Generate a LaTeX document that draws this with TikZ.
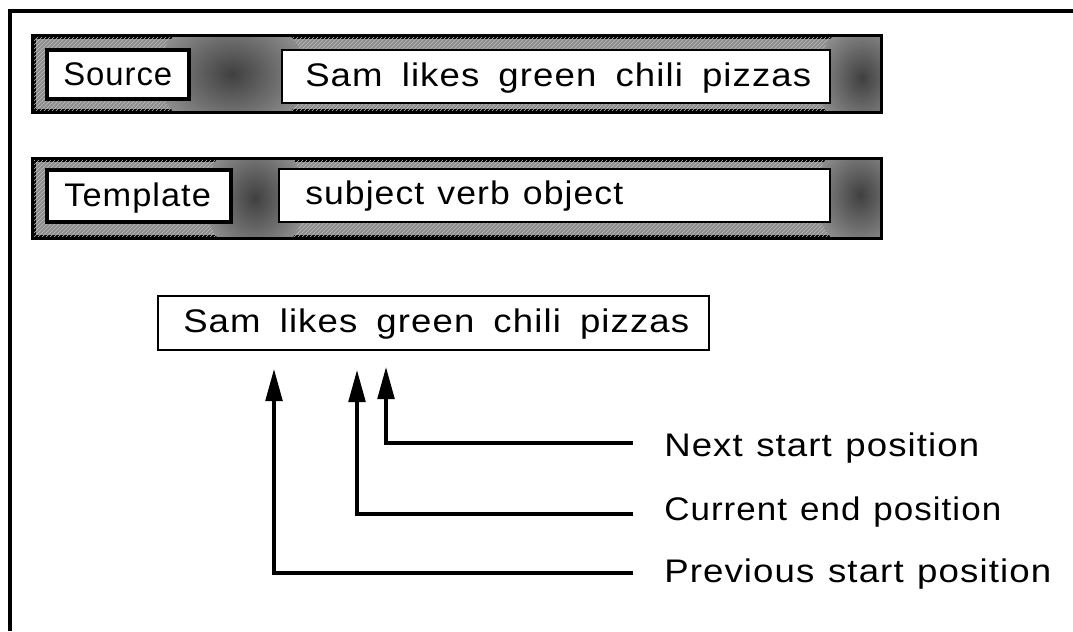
\documentclass[tikz,border=0pt]{standalone}
\usepackage{fontspec}
\setmainfont{Liberation Sans}[LetterSpace=3.0,WordSpace=1.7]
\newfontfamily\plainfont{Liberation Sans}[LetterSpace=3.0,WordSpace=1.2]
\usepackage{graphicx}
\usetikzlibrary{arrows.meta,patterns}
\newcommand\fitto[2]{\setbox0=\hbox{#2}\pgfmathsetmacro\fitr{#1/\the\wd0}\scalebox{\fitr}[1]{\box0}}
\begin{document}
\begin{tikzpicture}[x=0.75pt,y=-0.75pt,
  bar/.style={draw=black, line width=2.6pt, fill=black!45, minimum width=634.5pt, inner sep=0},
  box/.style={draw=black, fill=white, inner sep=0},
  txt/.style={inner sep=0, anchor=base west, font=\fontsize{24.5}{28}\selectfont},
  lead/.style={line width=2.5pt, -{Triangle[length=24pt,width=12.5pt]}},
  blot/.style={inner color=black!75, outer color=black!45},
  hatch/.style={pattern=north east lines, pattern color=black!25}
  ]
\useasboundingbox (0,0) rectangle (1073,631);
% frame
\draw[line width=2.6pt] (10,631) -- (10,11) -- (1073,11);

% Source bar
\node[bar, minimum height=55.5pt] (srcbar) at (457,74) {};
\begin{scope}
  \clip (srcbar.south west) rectangle (srcbar.north east);
  \fill[hatch] (srcbar.south west) rectangle (srcbar.north east);
  \shade[blot] (232,74) ellipse (75 and 60);
  \shade[blot] (862,78) ellipse (45 and 55);
\end{scope}
\draw[line width=2.6pt] (srcbar.south west) rectangle (srcbar.north east);
\node[box, line width=2.4pt, minimum width=106.5pt, minimum height=36.75pt] (srclbl) at (118,74.5) {};
\node[box, line width=2.2pt, minimum width=411pt, minimum height=39.75pt] (srctxt) at (556,76.5) {};
\node[txt] (srclblt) at (63,86) {\fitto{81.75pt}{Source}};
\node[txt] (srctxtt) at (305,87) {\fitto{379.5pt}{Sam likes green chili pizzas}};

% Template bar
\node[bar, minimum height=57.75pt] (tplbar) at (457,198.5) {};
\begin{scope}
  \clip (tplbar.south west) rectangle (tplbar.north east);
  \fill[hatch] (tplbar.south west) rectangle (tplbar.north east);
  \shade[blot] (255,198) ellipse (50 and 60);
  \shade[blot] (860,195) ellipse (45 and 55);
\end{scope}
\draw[line width=2.6pt] (tplbar.south west) rectangle (tplbar.north east);
\node[box, line width=2.4pt, minimum width=138pt, minimum height=39pt] (tpllbl) at (139,196) {};
\node[box, line width=2.2pt, minimum width=413.25pt, minimum height=39.75pt] (tpltxt) at (554.5,195.5) {};
\node[txt] (tpllblt) at (64,206) {\fitto{110pt}{Template}};
\node[txt] (tpltxtt) at (305,204) {\plainfont\fitto{238.5pt}{subject verb object}};

% parsed sentence
\node[box, line width=2.1pt, minimum width=413.25pt, minimum height=40.5pt] (parse) at (433.5,323) {};
\node[txt] (parset) at (183,332) {\fitto{379.5pt}{Sam likes green chili pizzas}};

% arrow tips and leader ends
\coordinate (tipN) at (386,367);
\coordinate (tipC) at (357,370);
\coordinate (tipP) at (274,369);
\coordinate (endN) at (633,443);
\coordinate (endC) at (633,514);
\coordinate (endP) at (633,573);
\draw[lead] (endN) -| (tipN);
\draw[lead] (endC) -| (tipC);
\draw[lead] (endP) -| (tipP);

% labels
\node[txt] (lblN) at (664,456) {\plainfont\fitto{236.25pt}{Next start position}};
\node[txt] (lblC) at (664,520) {\plainfont\fitto{252.75pt}{Current end position}};
\node[txt] (lblP) at (664,582) {\plainfont\fitto{290.25pt}{Previous start position}};
\end{tikzpicture}
\end{document}
